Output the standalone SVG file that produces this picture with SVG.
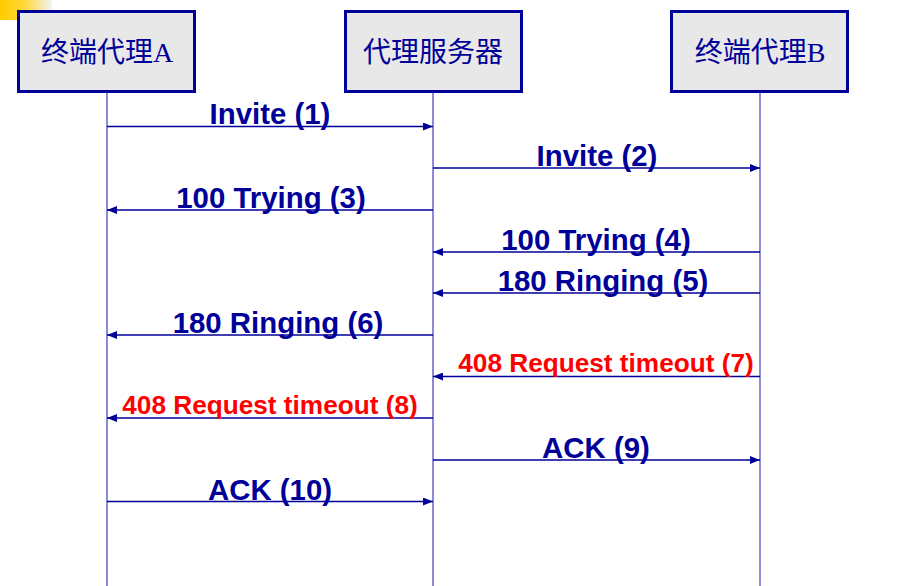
<svg xmlns="http://www.w3.org/2000/svg" width="903" height="586" viewBox="0 0 903 586">
<defs>
<linearGradient id="yg" x1="0" y1="0" x2="1" y2="0">
<stop offset="0" stop-color="#ffcc00"/>
<stop offset="0.45" stop-color="#ffd633"/>
<stop offset="1" stop-color="#f4f4f4"/>
</linearGradient>
<marker id="ah" markerWidth="10" markerHeight="8" refX="10" refY="4" orient="auto" markerUnits="userSpaceOnUse">
<path d="M0,0 L10,4 L0,8 Z" fill="#000099"/>
</marker>
<style>
.box{fill:#e8e8e8;stroke:#000099;stroke-width:3}
.life{stroke:#6464cc;stroke-width:1.5}
.msg{stroke:#000099;stroke-width:1.5;marker-end:url(#ah)}
.title{font-family:"Liberation Serif","Noto Sans CJK SC",serif;font-size:28px;fill:#000099;text-anchor:middle}
.lbl{font-family:"Liberation Sans",Arial,sans-serif;font-weight:bold;font-size:29.4px;fill:#000099;text-anchor:middle}
.red{font-family:"Liberation Sans",Arial,sans-serif;font-weight:bold;font-size:26.2px;fill:#ff0000;text-anchor:middle}
</style>
</defs>
<rect width="903" height="586" fill="#ffffff"/>
<rect x="0" y="0" width="52" height="20" fill="url(#yg)"/>
<g id="lifelines">
<line class="life" x1="107" y1="91" x2="107" y2="586"/>
<line class="life" x1="433" y1="91" x2="433" y2="586"/>
<line class="life" x1="760" y1="91" x2="760" y2="586"/>
</g>
<g id="node-A">
<rect class="box" x="18.5" y="11.5" width="176" height="80"/>
<text class="title" x="107" y="62">终端代理A</text>
</g>
<g id="node-proxy">
<rect class="box" x="345.5" y="11.5" width="176" height="80"/>
<text class="title" x="433" y="62">代理服务器</text>
</g>
<g id="node-B">
<rect class="box" x="671.5" y="11.5" width="176" height="80"/>
<text class="title" x="760" y="62">终端代理B</text>
</g>
<g id="connectors">
<line class="msg" x1="107" y1="126.5" x2="433" y2="126.5"/>
<line class="msg" x1="433" y1="168" x2="760" y2="168"/>
<line class="msg" x1="433" y1="210" x2="107" y2="210"/>
<line class="msg" x1="760" y1="252" x2="433" y2="252"/>
<line class="msg" x1="760" y1="293" x2="433" y2="293"/>
<line class="msg" x1="433" y1="335" x2="107" y2="335"/>
<line class="msg" x1="760" y1="376.5" x2="433" y2="376.5"/>
<line class="msg" x1="433" y1="418" x2="107" y2="418"/>
<line class="msg" x1="433" y1="460" x2="760" y2="460"/>
<line class="msg" x1="107" y1="501.5" x2="433" y2="501.5"/>
</g>
<g id="labels">
<text class="lbl" x="270" y="124">Invite (1)</text>
<text class="lbl" x="597" y="166">Invite (2)</text>
<text class="lbl" x="271" y="208">100 Trying (3)</text>
<text class="lbl" x="596" y="250">100 Trying (4)</text>
<text class="lbl" x="603" y="291">180 Ringing (5)</text>
<text class="lbl" x="278" y="333">180 Ringing (6)</text>
<text class="red" x="606" y="372">408 Request timeout (7)</text>
<text class="red" x="270" y="414">408 Request timeout (8)</text>
<text class="lbl" x="596" y="458">ACK (9)</text>
<text class="lbl" x="270" y="500">ACK (10)</text>
</g>
</svg>
